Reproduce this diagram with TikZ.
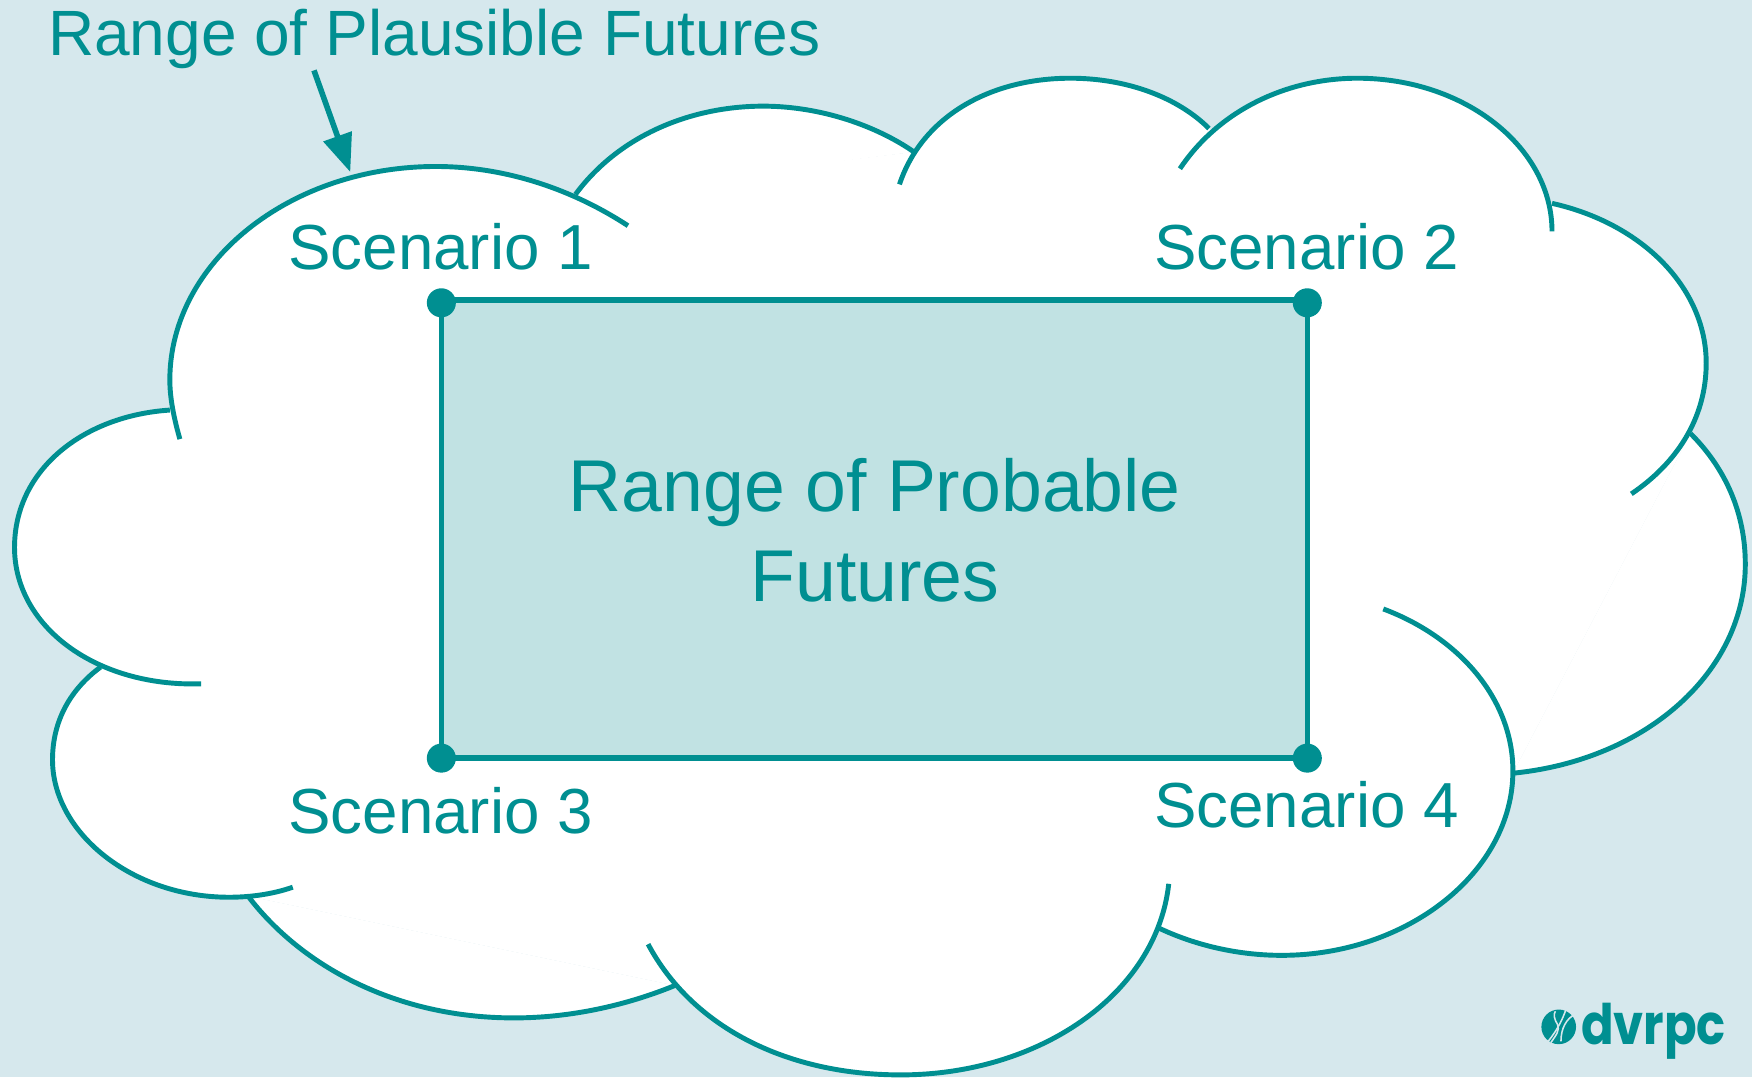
\documentclass[tikz,border=0pt]{standalone}
\usepackage{fontspec}
\setmainfont{Liberation Sans}
\newfontfamily\logofont{Poppins}
\usetikzlibrary{arrows.meta}
\definecolor{teal1}{HTML}{008F91}
\definecolor{bgc}{HTML}{D6E8ED}
\definecolor{rectc}{HTML}{C1E2E3}
\tikzset{
  arcline/.style={draw=teal1,line width=4.4pt},
  lab/.style={anchor=base west,text=teal1,inner sep=0pt,outer sep=0pt,font=\fontsize{57}{60}\selectfont},
  dotn/.style={circle,fill=teal1,minimum size=26pt,inner sep=0pt,outer sep=0pt},
  mid/.style={anchor=base,text=teal1,inner sep=0pt,outer sep=0pt,font=\fontsize{65.7}{70}\selectfont}
}
\newcommand{\arcA}{(161,393) .. controls (155,372) and (152,355) .. (152,340) .. controls (152,235) and (259,149) .. (390,149) .. controls (450,149) and (510,168) .. (562,202)}
\newcommand{\arcB}{(515,174) .. controls (555,120) and (620,95) .. (683,95) .. controls (735,95) and (785,113) .. (818,136)}
\newcommand{\arcC}{(805,165) .. controls (825,105) and (885,70) .. (958,70) .. controls (1010,70) and (1055,88) .. (1082,115)}
\newcommand{\arcD}{(1056,151) .. controls (1090,100) and (1150,70) .. (1215,70) .. controls (1311,70) and (1389,132) .. (1389,207)}
\newcommand{\arcE}{(1389,182) .. controls (1470,200) and (1527,258) .. (1527,325) .. controls (1527,375) and (1500,415) .. (1460,442)}
\newcommand{\arcF}{(1513,388) .. controls (1545,420) and (1562,460) .. (1562,505) .. controls (1562,600) and (1475,680) .. (1354,692)}
\newcommand{\arcG}{(1238,545) .. controls (1305,570) and (1354,625) .. (1354,690) .. controls (1354,780) and (1260,855) .. (1147,855) .. controls (1108,855) and (1070,846) .. (1038,831)}
\newcommand{\arcH}{(1046,791) .. controls (1035,890) and (930,962) .. (806,962) .. controls (705,962) and (620,920) .. (580,845)}
\newcommand{\arcI}{(604,882) .. controls (560,900) and (510,911) .. (460,911) .. controls (355,911) and (270,865) .. (222,802)}
\newcommand{\arcJ}{(262,794) .. controls (245,800) and (225,803) .. (205,803) .. controls (118,803) and (47,745) .. (47,680) .. controls (47,645) and (63,617) .. (90,597)}
\newcommand{\arcK}{(180,612) .. controls (85,615) and (13,560) .. (13,490) .. controls (13,420) and (75,372) .. (152,367)}
\begin{document}
\begin{tikzpicture}[x=1pt,y=-1pt]
\useasboundingbox (0,0) rectangle (1568,964);
\fill[bgc] (0,0) rectangle (1568,964);
% white body of the cloud: a polygon through the points where the lobes meet
\fill[white] (152,367) -- (516,172) -- (818,136) -- (1082,115) -- (1389,182) -- (1513,388) -- (1354,692) -- (1038,831) -- (604,882) -- (222,802) -- (90,597) -- cycle;
\foreach \a in {\arcA,\arcB,\arcC,\arcD,\arcE,\arcF,\arcG,\arcH,\arcI,\arcJ,\arcK}{
  \fill[white] \a -- cycle;
}
\foreach \a in {\arcA,\arcB,\arcC,\arcD,\arcE,\arcF,\arcG,\arcH,\arcI,\arcJ,\arcK}{
  \draw[arcline] \a;
}
% probable futures rectangle
\coordinate (c1) at (395,268.5);
\coordinate (c2) at (1170,268.5);
\coordinate (c3) at (395,678.5);
\coordinate (c4) at (1170,678.5);
\draw[fill=rectc,draw=teal1,line width=5pt] (c1) -- (c2) -- (c4) -- (c3) -- cycle;
\node[dotn] (d1) at (395,271) {};
\node[dotn] (d2) at (1170,271) {};
\node[dotn] (d3) at (395,678.5) {};
\node[dotn] (d4) at (1170,678.5) {};
% labels
\node[lab,font=\fontsize{57.3}{60}\selectfont] (title) at (43,50) {Range of Plausible Futures};
\node[lab] (s1) at (258,241) {Scenario 1};
\node[lab] (s2) at (1033,241) {Scenario 2};
\node[lab] (s3) at (258,746) {Scenario 3};
\node[lab] (s4) at (1033,741) {Scenario 4};
\node[mid] (m1) at (783,458) {Range of Probable};
\node[mid] (m2) at (783,538) {Futures};
% arrow
\coordinate (a0) at (281,63);
\coordinate (a1) at (313.5,154);
\draw[teal1,line width=5pt,-{Triangle[length=34pt,width=26pt]}] (a0) -- (a1);
% logo
\fill[teal1] (1395,919) circle (15.5);
\draw[bgc,line width=1.4pt] (1382,936) .. controls (1392,925) and (1398,914) .. (1402,902);
\draw[bgc,line width=1.4pt] (1388,933) .. controls (1393,926) and (1396,922) .. (1394,917) .. controls (1391,912) and (1390,908) .. (1392,905);
\draw[bgc,line width=1.4pt] (1409,908) .. controls (1402,912) and (1397,920) .. (1397,932);
\node[anchor=base west,text=teal1,inner sep=0pt,outer sep=0pt,xscale=.86,font=\logofont\bfseries\fontsize{50}{52}\selectfont] (logo) at (1415,935) {dvrpc};
\end{tikzpicture}
\end{document}
